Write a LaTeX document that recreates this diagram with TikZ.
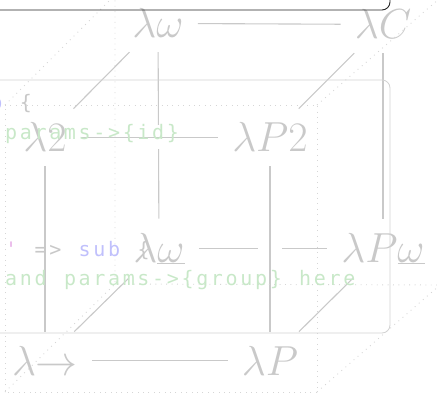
\RequirePackage{fix-cm}
\documentclass[tikz,border=0pt]{standalone}
\usepackage{fontspec}
\newfontfamily\codefont{DejaVu Sans Mono}[LetterSpace=13.3]
\definecolor{codegreen}{RGB}{200,232,200}
\definecolor{codeblue}{RGB}{192,192,252}
\definecolor{codepurple}{RGB}{232,180,232}
\definecolor{codegray}{RGB}{200,200,200}
\tikzset{
  cube/.style={text=gray!42, inner sep=14pt, font=\fontsize{42}{50}\selectfont, anchor=base},
  cubeline/.style={draw=gray!42, line width=1.1pt},
  front/.style={cubeline, preaction={draw=white, line width=24pt}},
  dots/.style={draw=gray!32, line width=0.9pt, dash pattern=on 0.9pt off 4.5pt},
  code/.style={anchor=base west, inner sep=0pt, font=\codefont\fontsize{20}{22}\selectfont},
  frameA/.style={draw=black!85, line width=0.9pt, rounded corners=8pt},
  frameB/.style={draw=gray!35, line width=0.8pt, rounded corners=8pt},
}
\newcommand\cx[1]{5+#1*14.7}
\begin{document}
\begin{tikzpicture}[x=1pt,y=-1pt]
\clip (0,0) rectangle (437,393);
% lambda cube
\node[cube] (lw)   at (158,38)  {$\lambda\omega$};
\node[cube] (lC)   at (383,39)  {$\lambda C$};
\node[cube] (l2)   at (45,152)  {$\lambda 2$};
\node[cube] (lP2)  at (270,152) {$\lambda P2$};
\node[cube] (lwu)  at (159,262) {$\lambda\underline{\omega}$};
\node[cube] (lPwu) at (383,262) {$\lambda P\underline{\omega}$};
\node[cube] (lar)  at (45,375)  {$\lambda{\to}$};
\node[cube] (lP)   at (270,375) {$\lambda P$};
\draw[cubeline] (lw) -- (lC);
\draw[cubeline] (lw) -- (lwu);
\draw[cubeline] (lw) -- (l2);
\draw[cubeline] (lC) -- (lP2);
\draw[cubeline] (lC) -- (lPwu);
\draw[cubeline] (lwu) -- (lPwu);
\draw[cubeline] (lwu) -- (lar);
\draw[cubeline] (lPwu) -- (lP);
\draw[front] (l2) -- (lP2);
\draw[front] (lP2) -- (lP);
\draw[cubeline] (l2) -- (lar);
\draw[cubeline] (lar) -- (lP);
% dotted box
\coordinate (f1) at (5,105);
\coordinate (f2) at (317,105);
\coordinate (f3) at (317,392);
\coordinate (f4) at (5,392);
\coordinate (b1) at (115,-5);
\coordinate (b2) at (440,-2);
\coordinate (b3) at (440,285);
\coordinate (b4) at (115,284);
\draw[dots] (f1) -- (f2) -- (f3) -- (f4) -- cycle;
\draw[dots] (b1) -- (b4) -- (b3);
\draw[dots] (f1) -- (b1);
\draw[dots] (f2) -- (b2);
\draw[dots] (f3) -- (b3);
\draw[dots] (f4) -- (b4);
% frames
\draw[frameA] (-20,-30) rectangle (390,10);
\draw[frameB] (-20,80) rectangle (390,333);
% code text
\node[code, text=codeblue]   (t1a) at (\cx{-3},110) {sub};
\node[code, text=codegray]   (t1b) at (\cx{1},110)  {\{};
\node[code, text=codegreen]  (t2a) at (\cx{0},140)  {params->\{id\}};
\node[code, text=codepurple] (t3a) at (\cx{0},257)  {\char39};
\node[code, text=codegray]   (t3b) at (\cx{2},257)  {=>};
\node[code, text=codeblue]   (t3c) at (\cx{5},257)  {sub};
\node[code, text=codegray]   (t3d) at (\cx{9},257)  {\{};
\node[code, text=codegreen]  (t4a) at (\cx{0},286)  {and};
\node[code, text=codegreen]  (t4b) at (\cx{4},286)  {params->\{group\}};
\node[code, text=codegreen]  (t4c) at (\cx{20},286) {here};
\end{tikzpicture}
\end{document}
